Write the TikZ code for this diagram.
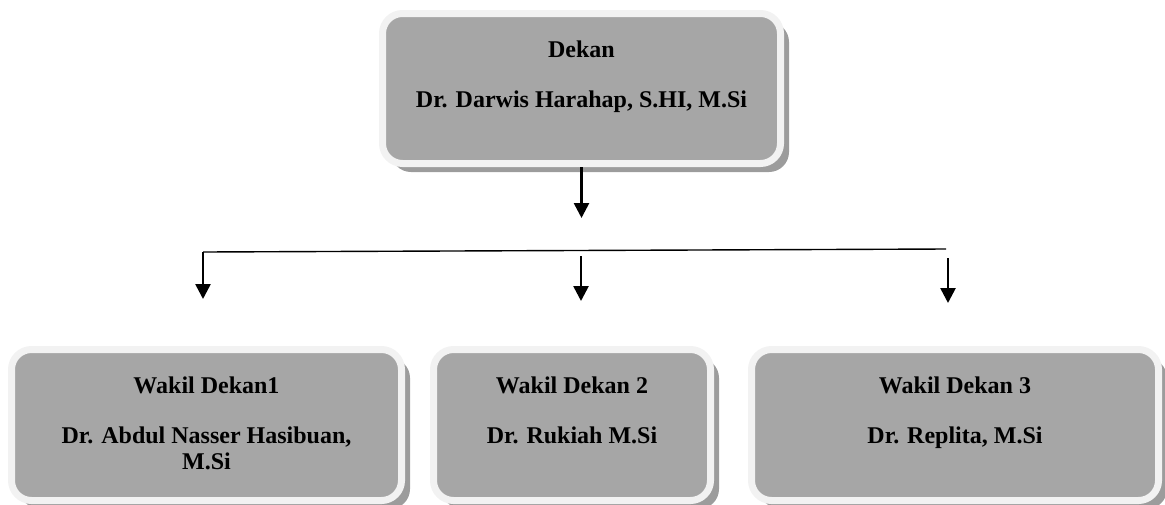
\documentclass[tikz,border=0pt]{standalone}
\usepackage{fontspec}
\setmainfont{Liberation Serif}
\usetikzlibrary{arrows.meta,shadows}
\definecolor{isi}{HTML}{A6A6A6}
\definecolor{bingkai}{HTML}{F2F2F2}
\definecolor{bayang}{HTML}{9C9C9C}
\tikzset{
	jabatan/.style={rectangle, rounded corners=10pt, fill=isi, draw=bingkai, line width=3.5pt, inner sep=1.75pt,
		drop shadow={shadow xshift=4.25pt, shadow yshift=-4.25pt, fill=bayang, opacity=1},
		font=\fontsize{12}{13}\selectfont\bfseries},
	panah/.style={-{Triangle[length=7.5pt,width=7.5pt]}, line width=1.3pt}
}
\begin{document}
\begin{tikzpicture}[x=0.5pt,y=-0.5pt]
	\useasboundingbox (0,0) rectangle (1165,504);

	\node[jabatan] (dekan) at (581.5,88.5) {\parbox[c][71.5pt][t]{195.5pt}{\centering\rule{0pt}{20pt}Dekan\\[12pt]Dr. Darwis Harahap, S.HI, M.Si}};

	\node[jabatan] (wakil1) at (206.5,425) {\parbox[c][72pt][t]{191.5pt}{\centering\rule{0pt}{20pt}Wakil Dekan1\\[12pt]Dr. Abdul Nasser Hasibuan,\\M.Si}};
	\node[jabatan] (wakil2) at (572,425) {\parbox[c][72pt][t]{135pt}{\centering\rule{0pt}{20pt}Wakil Dekan 2\\[12pt]Dr. Rukiah M.Si}};
	\node[jabatan] (wakil3) at (955,425) {\parbox[c][72pt][t]{200pt}{\centering\rule{0pt}{20pt}Wakil Dekan 3\\[12pt]Dr. Replita, M.Si}};

	\coordinate (turun) at (581.5,218);
	\coordinate (kiri) at (203,252);
	\coordinate (kanan) at (946,249);
	\coordinate (tengah) at (581,256);
	\coordinate (kanan-bawah) at (948,258);
	\coordinate (ujung1) at (203,299);
	\coordinate (ujung2) at (581,301);
	\coordinate (ujung3) at (948,303);

	\draw[panah] (dekan.south) -- (turun);
	\draw[line width=0.7pt] (kiri) -- (kanan);
	\draw[panah] (kiri) -- (ujung1);
	\draw[panah] (tengah) -- (ujung2);
	\draw[panah] (kanan-bawah) -- (ujung3);
\end{tikzpicture}
\end{document}
